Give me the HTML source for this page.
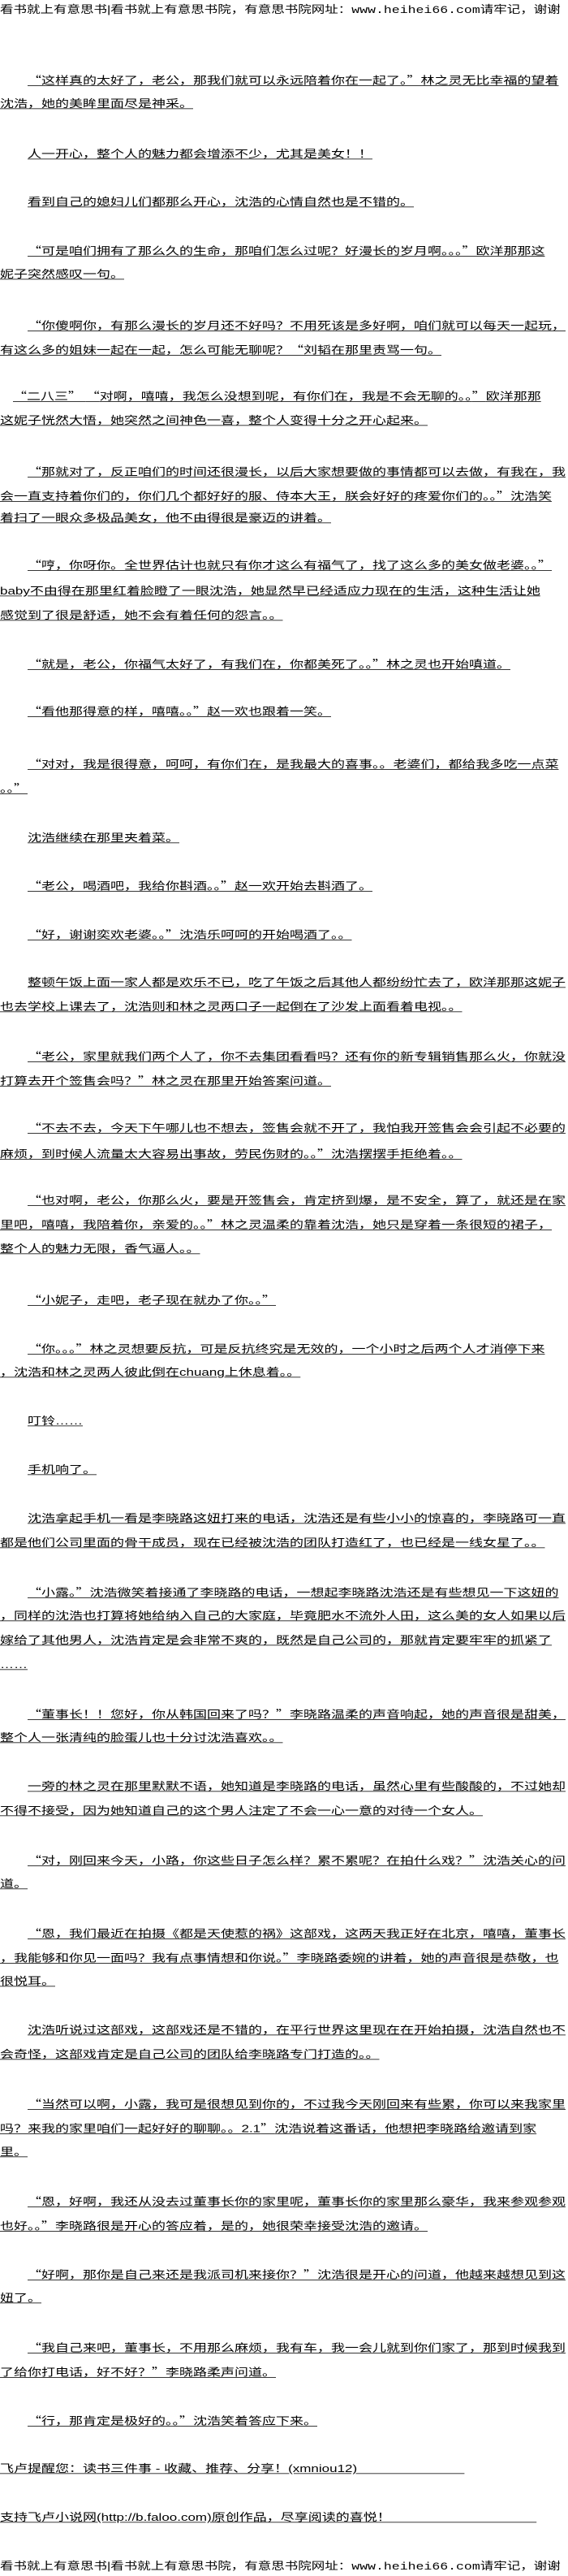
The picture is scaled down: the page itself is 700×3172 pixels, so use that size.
<!DOCTYPE html>
<html><head><meta charset="utf-8">
<style>
html,body{margin:0;padding:0;background:#fff;}
body{width:700px;height:3170px;position:relative;overflow:hidden;font-family:"Liberation Sans","Noto Sans CJK SC",sans-serif;color:#000;}
.l{position:absolute;left:0;height:30px;line-height:30px;font-size:17px;white-space:nowrap;transform:scaleY(0.78);transform-origin:center;}
.l>span{text-decoration:underline;text-underline-offset:2px;}
.q{font-family:"Noto Sans CJK SC",sans-serif;font-weight:normal;}
.i{left:34px;}
.m{font-family:"Liberation Mono",monospace;}
.h{font-size:16.5px;}
</style></head><body>
<div class="l h" style="top:-3px">看书就上有意思书|看书就上有意思书院，有意思书院网址：<span class="m" style="text-decoration:none">www.heihei66.com</span>请牢记，谢谢</div>
<div class="l i" style="top:83px"><span><b class="q">“</b>这样真的太好了，老公，那我们就可以永远陪着你在一起了。<b class="q">”</b>林之灵无比幸福的望着</span></div>
<div class="l" style="top:113px"><span>沈浩，她的美眸里面尽是神采。</span></div>
<div class="l i" style="top:175px"><span>人一开心，整个人的魅力都会增添不少，尤其是美女！！</span></div>
<div class="l i" style="top:234px"><span>看到自己的媳妇儿们都那么开心，沈浩的心情自然也是不错的。</span></div>
<div class="l i" style="top:293px"><span><b class="q">“</b>可是咱们拥有了那么久的生命，那咱们怎么过呢？好漫长的岁月啊。。。<b class="q">”</b>欧洋那那这</span></div>
<div class="l" style="top:323px"><span>妮子突然感叹一句。</span></div>
<div class="l i" style="top:385px"><span><b class="q">“</b>你傻啊你，有那么漫长的岁月还不好吗？不用死该是多好啊，咱们就可以每天一起玩，</span></div>
<div class="l" style="top:415px"><span>有这么多的姐妹一起在一起，怎么可能无聊呢？<b class="q">“</b>刘韬在那里责骂一句。</span></div>
<div class="l" style="top:472px;left:16px"><span><b class="q">“</b>二八三<b class="q">”</b> <b class="q">“</b>对啊，嘻嘻，我怎么没想到呢，有你们在，我是不会无聊的。。<b class="q">”</b>欧洋那那</span></div>
<div class="l" style="top:503px"><span>这妮子恍然大悟，她突然之间神色一喜，整个人变得十分之开心起来。</span></div>
<div class="l i" style="top:565px"><span><b class="q">“</b>那就对了，反正咱们的时间还很漫长，以后大家想要做的事情都可以去做，有我在，我</span></div>
<div class="l" style="top:595px"><span>会一直支持着你们的，你们几个都好好的服、侍本大王，朕会好好的疼爱你们的。。<b class="q">”</b>沈浩笑</span></div>
<div class="l" style="top:623px"><span>着扫了一眼众多极品美女，他不由得很是豪迈的讲着。</span></div>
<div class="l i" style="top:680px"><span><b class="q">“</b>哼，你呀你。全世界估计也就只有你才这么有福气了，找了这么多的美女做老婆。。<b class="q">”</b></span></div>
<div class="l" style="top:713px"><span>baby不由得在那里红着脸瞪了一眼沈浩，她显然早已经适应力现在的生活，这种生活让她</span></div>
<div class="l" style="top:743px"><span>感觉到了很是舒适，她不会有着任何的怨言。。</span></div>
<div class="l i" style="top:802px"><span><b class="q">“</b>就是，老公，你福气太好了，有我们在，你都美死了。。<b class="q">”</b>林之灵也开始嗔道。</span></div>
<div class="l i" style="top:860px"><span><b class="q">“</b>看他那得意的样，嘻嘻。。<b class="q">”</b>赵一欢也跟着一笑。</span></div>
<div class="l i" style="top:925px"><span><b class="q">“</b>对对，我是很得意，呵呵，有你们在，是我最大的喜事。。老婆们，都给我多吃一点菜</span></div>
<div class="l" style="top:955px"><span>。。<b class="q">”</b></span></div>
<div class="l i" style="top:1017px"><span>沈浩继续在那里夹着菜。</span></div>
<div class="l i" style="top:1075px"><span><b class="q">“</b>老公，喝酒吧，我给你斟酒。。<b class="q">”</b>赵一欢开始去斟酒了。</span></div>
<div class="l i" style="top:1135px"><span><b class="q">“</b>好，谢谢奕欢老婆。。<b class="q">”</b>沈浩乐呵呵的开始喝酒了。。</span></div>
<div class="l i" style="top:1195px"><span>整顿午饭上面一家人都是欢乐不已，吃了午饭之后其他人都纷纷忙去了，欧洋那那这妮子</span></div>
<div class="l" style="top:1225px"><span>也去学校上课去了，沈浩则和林之灵两口子一起倒在了沙发上面看着电视。。</span></div>
<div class="l i" style="top:1285px"><span><b class="q">“</b>老公，家里就我们两个人了，你不去集团看看吗？还有你的新专辑销售那么火，你就没</span></div>
<div class="l" style="top:1315px"><span>打算去开个签售会吗？<b class="q">”</b>林之灵在那里开始答案问道。</span></div>
<div class="l i" style="top:1373px"><span><b class="q">“</b>不去不去，今天下午哪儿也不想去，签售会就不开了，我怕我开签售会会引起不必要的</span></div>
<div class="l" style="top:1405px"><span>麻烦，到时候人流量太大容易出事故，劳民伤财的。。<b class="q">”</b>沈浩摆摆手拒绝着。。</span></div>
<div class="l i" style="top:1462px"><span><b class="q">“</b>也对啊，老公，你那么火，要是开签售会，肯定挤到爆，是不安全，算了，就还是在家</span></div>
<div class="l" style="top:1492px"><span>里吧，嘻嘻，我陪着你，亲爱的。。<b class="q">”</b>林之灵温柔的靠着沈浩，她只是穿着一条很短的裙子，</span></div>
<div class="l" style="top:1523px"><span>整个人的魅力无限，香气逼人。。</span></div>
<div class="l i" style="top:1585px"><span><b class="q">“</b>小妮子，走吧，老子现在就办了你。。<b class="q">”</b></span></div>
<div class="l i" style="top:1645px"><span><b class="q">“</b>你。。。<b class="q">”</b>林之灵想要反抗，可是反抗终究是无效的，一个小时之后两个人才消停下来</span></div>
<div class="l" style="top:1675px"><span>，沈浩和林之灵两人彼此倒在chuang上休息着。。</span></div>
<div class="l i" style="top:1735px"><span>叮铃……</span></div>
<div class="l i" style="top:1795px"><span>手机响了。</span></div>
<div class="l i" style="top:1855px"><span>沈浩拿起手机一看是李晓路这妞打来的电话，沈浩还是有些小小的惊喜的，李晓路可一直</span></div>
<div class="l" style="top:1885px"><span>都是他们公司里面的骨干成员，现在已经被沈浩的团队打造红了，也已经是一线女星了。。</span></div>
<div class="l i" style="top:1945px"><span><b class="q">“</b>小露。<b class="q">”</b>沈浩微笑着接通了李晓路的电话，一想起李晓路沈浩还是有些想见一下这妞的</span></div>
<div class="l" style="top:1975px"><span>，同样的沈浩也打算将她给纳入自己的大家庭，毕竟肥水不流外人田，这么美的女人如果以后</span></div>
<div class="l" style="top:2005px"><span>嫁给了其他男人，沈浩肯定是会非常不爽的，既然是自己公司的，那就肯定要牢牢的抓紧了</span></div>
<div class="l" style="top:2035px"><span>……</span></div>
<div class="l i" style="top:2095px"><span><b class="q">“</b>董事长！！您好，你从韩国回来了吗？<b class="q">”</b>李晓路温柔的声音响起，她的声音很是甜美，</span></div>
<div class="l" style="top:2125px"><span>整个人一张清纯的脸蛋儿也十分讨沈浩喜欢。。</span></div>
<div class="l i" style="top:2185px"><span>一旁的林之灵在那里默默不语，她知道是李晓路的电话，虽然心里有些酸酸的，不过她却</span></div>
<div class="l" style="top:2215px"><span>不得不接受，因为她知道自己的这个男人注定了不会一心一意的对待一个女人。</span></div>
<div class="l i" style="top:2275px"><span><b class="q">“</b>对，刚回来今天，小路，你这些日子怎么样？累不累呢？在拍什么戏？<b class="q">”</b>沈浩关心的问</span></div>
<div class="l" style="top:2305px"><span>道。</span></div>
<div class="l i" style="top:2365px"><span><b class="q">“</b>恩，我们最近在拍摄《都是天使惹的祸》这部戏，这两天我正好在北京，嘻嘻，董事长</span></div>
<div class="l" style="top:2395px"><span>，我能够和你见一面吗？我有点事情想和你说。<b class="q">”</b>李晓路委婉的讲着，她的声音很是恭敬，也</span></div>
<div class="l" style="top:2425px"><span>很悦耳。</span></div>
<div class="l i" style="top:2485px"><span>沈浩听说过这部戏，这部戏还是不错的，在平行世界这里现在在开始拍摄，沈浩自然也不</span></div>
<div class="l" style="top:2515px"><span>会奇怪，这部戏肯定是自己公司的团队给李晓路专门打造的。。</span></div>
<div class="l i" style="top:2575px"><span><b class="q">“</b>当然可以啊，小露，我可是很想见到你的，不过我今天刚回来有些累，你可以来我家里</span></div>
<div class="l" style="top:2605px"><span>吗？来我的家里咱们一起好好的聊聊。。2.1<b class="q">”</b>沈浩说着这番话，他想把李晓路给邀请到家</span></div>
<div class="l" style="top:2635px"><span>里。</span></div>
<div class="l i" style="top:2695px"><span><b class="q">“</b>恩，好啊，我还从没去过董事长你的家里呢，董事长你的家里那么豪华，我来参观参观</span></div>
<div class="l" style="top:2725px"><span>也好。。<b class="q">”</b>李晓路很是开心的答应着，是的，她很荣幸接受沈浩的邀请。</span></div>
<div class="l i" style="top:2785px"><span><b class="q">“</b>好啊，那你是自己来还是我派司机来接你？<b class="q">”</b>沈浩很是开心的问道，他越来越想见到这</span></div>
<div class="l" style="top:2815px"><span>妞了。</span></div>
<div class="l i" style="top:2875px"><span><b class="q">“</b>我自己来吧，董事长，不用那么麻烦，我有车，我一会儿就到你们家了，那到时候我到</span></div>
<div class="l" style="top:2905px"><span>了给你打电话，好不好？<b class="q">”</b>李晓路柔声问道。</span></div>
<div class="l i" style="top:2965px"><span><b class="q">“</b>行，那肯定是极好的。。<b class="q">”</b>沈浩笑着答应下来。 </span></div>
<div class="l" style="top:3025px"><span>飞卢提醒您：读书三件事 - 收藏、推荐、分享！(xmniou12)&nbsp;&nbsp;&nbsp;&nbsp;&nbsp;&nbsp;&nbsp;&nbsp;&nbsp;&nbsp;&nbsp;&nbsp;&nbsp;&nbsp;&nbsp;&nbsp;&nbsp;&nbsp;&nbsp;&nbsp;&nbsp;&nbsp;&nbsp;&nbsp;&nbsp;&nbsp;&nbsp;&nbsp;</span></div>
<div class="l" style="top:3085px"><span>支持飞卢小说网(http://b.faloo.com)原创作品，尽享阅读的喜悦！&nbsp;&nbsp;&nbsp;&nbsp;&nbsp;&nbsp;&nbsp;&nbsp;&nbsp;&nbsp;&nbsp;&nbsp;&nbsp;&nbsp;&nbsp;&nbsp;&nbsp;&nbsp;&nbsp;&nbsp;&nbsp;&nbsp;&nbsp;&nbsp;&nbsp;&nbsp;&nbsp;&nbsp;&nbsp;&nbsp;&nbsp;&nbsp;&nbsp;&nbsp;&nbsp;&nbsp;&nbsp;&nbsp;</span></div>
<div class="l h" style="top:3145px">看书就上有意思书|看书就上有意思书院，有意思书院网址：<span class="m" style="text-decoration:none">www.heihei66.com</span>请牢记，谢谢</div>
</body></html>
